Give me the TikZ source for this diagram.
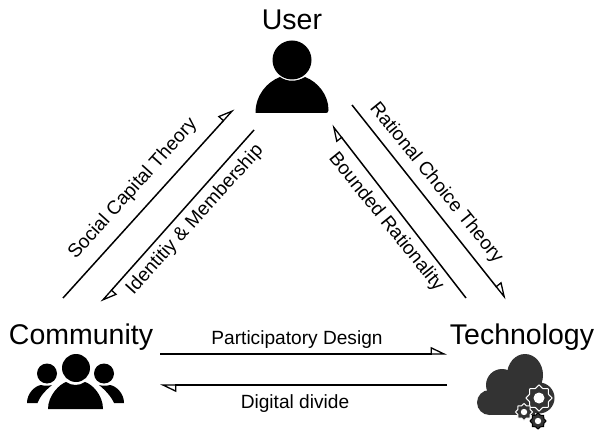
\documentclass[tikz,border=0pt]{standalone}
\usepackage{fontspec}
\setmainfont{Liberation Sans}
\usetikzlibrary{arrows.meta}
\tikzset{
  x=1bp,y=-1bp,
  flow/.style={draw=black,line width=1.5bp,-{Triangle[open,harpoon,length=15bp,width=14bp,line width=1.3bp]}},
  title/.style={font=\fontsize{28.6}{32}\selectfont,inner sep=0pt,anchor=center},
  lab/.style={font=\fontsize{19.2}{22}\selectfont,inner sep=0pt,anchor=center},
  icon/.style={fill=black,draw=none},
  cloud/.style={fill=black!80,draw=none},
}
\newcommand{\cog}[5]{% x, y, outer radius, colour, hole radius
  \draw[draw=#4,fill=black!80,line width=1bp]
    plot[smooth cycle,tension=0.25] coordinates {
    ({#1+#3*cos(0)},{#2+#3*sin(0)})
    ({#1+0.78*#3*cos(22.5)},{#2+0.78*#3*sin(22.5)})
    ({#1+#3*cos(45)},{#2+#3*sin(45)})
    ({#1+0.78*#3*cos(67.5)},{#2+0.78*#3*sin(67.5)})
    ({#1+#3*cos(90)},{#2+#3*sin(90)})
    ({#1+0.78*#3*cos(112.5)},{#2+0.78*#3*sin(112.5)})
    ({#1+#3*cos(135)},{#2+#3*sin(135)})
    ({#1+0.78*#3*cos(157.5)},{#2+0.78*#3*sin(157.5)})
    ({#1+#3*cos(180)},{#2+#3*sin(180)})
    ({#1+0.78*#3*cos(202.5)},{#2+0.78*#3*sin(202.5)})
    ({#1+#3*cos(225)},{#2+#3*sin(225)})
    ({#1+0.78*#3*cos(247.5)},{#2+0.78*#3*sin(247.5)})
    ({#1+#3*cos(270)},{#2+#3*sin(270)})
    ({#1+0.78*#3*cos(292.5)},{#2+0.78*#3*sin(292.5)})
    ({#1+#3*cos(315)},{#2+#3*sin(315)})
    ({#1+0.78*#3*cos(337.5)},{#2+0.78*#3*sin(337.5)})
  };
  \fill[white] (#1,#2) circle (#5);
}
\begin{document}
\begin{tikzpicture}
\useasboundingbox (0,0) rectangle (595,433);
% titles
\node[title] (user) at (292,20) {User};
\node[title] (community) at (81,337) {Community};
\node[title] (technology) at (522,337) {Technology};
% user icon
\fill[icon] (292,60) circle (19.5);
\fill[icon] (255.5,113) .. controls (255.5,95) and (267,82) .. (280,77)
  .. controls (287,82) and (297,82) .. (305,77)
  .. controls (318,82) and (328.5,95) .. (328.5,110)
  .. controls (328.5,112) and (327.5,113) .. (326,113) -- cycle;
% community icon
\fill[icon] (76,368) circle (14);
\fill[icon] (47,373.5) circle (10);
\fill[icon] (104,373.5) circle (10);
\fill[icon] (48,409) .. controls (48,395) and (60,384) .. (66,382)
  .. controls (72,386) and (79,386) .. (85,382)
  .. controls (92,384) and (103,395) .. (103,409) -- cycle;
\fill[icon] (27,403) .. controls (27,393) and (35,386) .. (41,385)
  .. controls (44,386) and (49,386) .. (52,385) .. controls (46,390) and (40,396) .. (37.5,403) -- cycle;
\fill[icon] (124,403) .. controls (124,393) and (116,386) .. (110,385)
  .. controls (107,386) and (102,386) .. (99,385) .. controls (105,390) and (111,396) .. (114,403) -- cycle;
% cloud
\fill[cloud] (502,385) circle (16);
\fill[cloud] (525,375) ellipse (18 and 21);
\fill[cloud] (489.5,402.5) circle (12.5);
\fill[cloud] (539,398) circle (15.5);
\fill[cloud] (489.5,390) rectangle (535,415);
\fill[cloud] (507,375) rectangle (542,400);
\cog{539}{398}{13}{white}{5.5}
\cog{524}{412}{8.5}{white}{3.2}
\cog{538}{421}{8}{black}{3.2}
% connectors
\coordinate (sa) at (63,298); \coordinate (sb) at (234,109);
\coordinate (ia) at (254,130); \coordinate (ib) at (101,302);
\coordinate (ra) at (352,105); \coordinate (rb) at (506,299);
\coordinate (ba) at (466,298); \coordinate (bb) at (332,125);
\coordinate (pa) at (160,354); \coordinate (pb) at (447,354);
\coordinate (da) at (447,385); \coordinate (db) at (160,385);
\draw[flow] (sa) -- (sb);
\draw[flow] (ia) -- (ib);
\draw[flow] (ra) -- (rb);
\draw[flow] (ba) -- (bb);
\draw[flow] (pa) -- (pb);
\draw[flow] (da) -- (db);
% labels
\node[lab,rotate=48] (lsocial) at (133,189) {Social Capital Theory};
\node[lab,rotate=48] (lident) at (195,220) {Identitiy \& Membership};
\node[lab,rotate=-51] (lrat) at (436,183) {Rational Choice Theory};
\node[lab,rotate=-51] (lbound) at (386,222) {Bounded Rationality};
\node[lab] (lpart) at (297,340) {Participatory Design};
\node[lab] (ldig) at (295,404) {Digital divide};
\end{tikzpicture}
\end{document}
